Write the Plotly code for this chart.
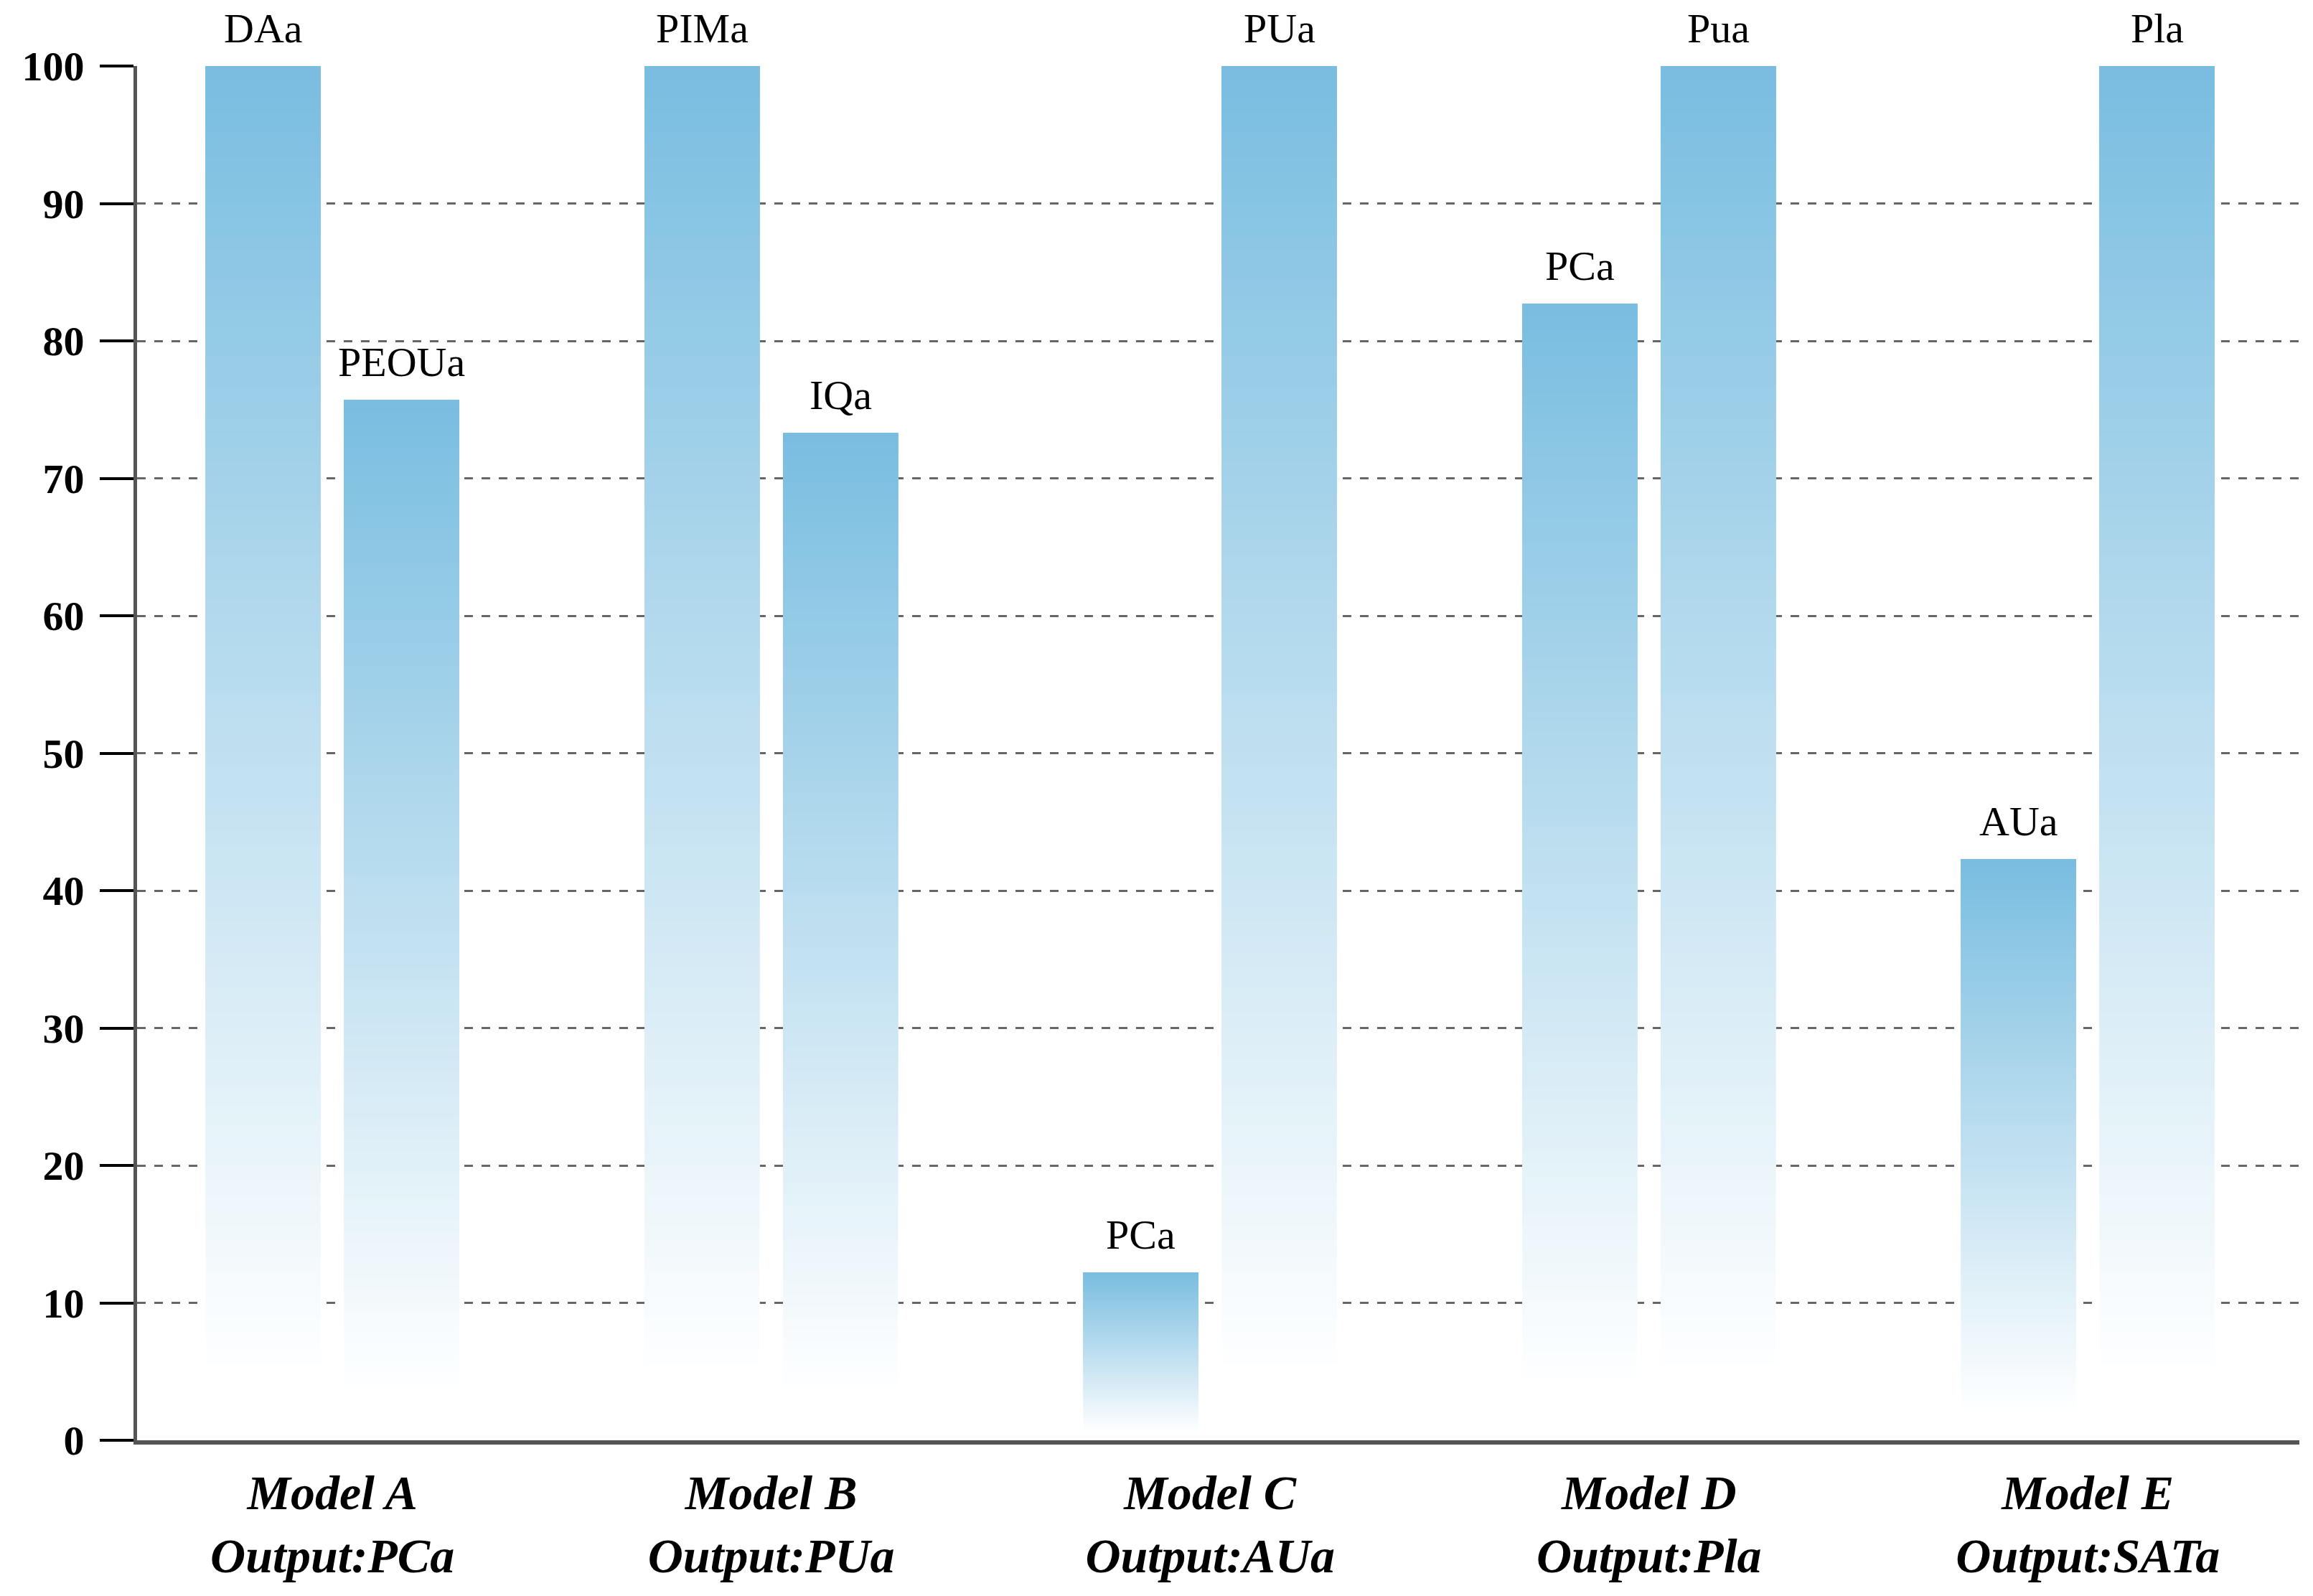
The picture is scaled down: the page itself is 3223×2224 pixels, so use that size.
import plotly.graph_objects as go

# ---- data ----
categories = [
    "Model A<br>Output:PCa",
    "Model B<br>Output:PUa",
    "Model C<br>Output:AUa",
    "Model D<br>Output:Pla",
    "Model E<br>Output:SATa",
]
first_labels = ["DAa", "PIMa", "PCa", "PCa", "AUa"]
first_values = [100, 100, 12.2, 82.7, 42.3]
second_labels = ["PEOUa", "IQa", "PUa", "Pua", "Pla"]
second_values = [75.7, 73.3, 100, 100, 100]
y_ticks = [0, 10, 20, 30, 40, 50, 60, 70, 80, 90, 100]

# ---- style ----
FONT = "Liberation Serif"
TOP_RGB = (121, 189, 224)
N_STEPS = 90
FADE_END = 0.95
BARGAP = 0.369
GROUPGAP = 0.171

fig = go.Figure()


def band_color(k):
    frac_from_top = 1 - (k + 0.5) / N_STEPS
    w = min(frac_from_top / FADE_END, 1.0)
    r, g, b = (round(c * (1 - w) + 255 * w) for c in TOP_RGB)
    return f"rgb({r},{g},{b})"


for group, values in (("first", first_values), ("second", second_values)):
    for k in range(N_STEPS):
        fig.add_trace(go.Bar(
            x=categories,
            base=[v * k / N_STEPS for v in values],
            y=[v * (N_STEPS - k) / N_STEPS for v in values],
            offsetgroup=group,
            marker=dict(color=band_color(k), line=dict(width=0)),
            hoverinfo="skip",
            showlegend=False,
        ))

slot = (1 - BARGAP) / 2
annotations = []
for idx in range(len(categories)):
    for shift, labels, values in ((-slot / 2, first_labels, first_values),
                                  (slot / 2, second_labels, second_values)):
        annotations.append(dict(
            x=idx + shift, y=values[idx], xref="x", yref="y",
            text=labels[idx], showarrow=False, yanchor="bottom", yshift=18,
            font=dict(family=FONT, size=58, color="black"),
        ))

fig.update_layout(
    width=3223, height=2224,
    margin=dict(l=183, r=27, t=84, b=225),
    paper_bgcolor="white", plot_bgcolor="white",
    barmode="group", bargap=BARGAP, bargroupgap=GROUPGAP,
    annotations=annotations,
    showlegend=False,
)
fig.update_xaxes(
    type="category",
    range=[-0.445, 4.482],
    automargin=False,
    showgrid=False, zeroline=False,
    showline=True, linecolor="#555555", linewidth=6,
    ticks="", ticklabelstandoff=8,
    tickfont=dict(family=FONT, size=68, color="black", weight="bold", style="italic"),
)
fig.update_yaxes(
    range=[0, 100], tickvals=y_ticks,
    automargin=False,
    showgrid=True, gridcolor="#666666", gridwidth=3, griddash="12px,12px",
    zeroline=False,
    showline=True, linecolor="#555555", linewidth=5,
    ticks="outside", ticklen=47, tickwidth=4, tickcolor="black",
    ticklabelstandoff=10,
    tickfont=dict(family=FONT, size=58, color="black", weight="bold"),
)

fig.write_html("out.html")
